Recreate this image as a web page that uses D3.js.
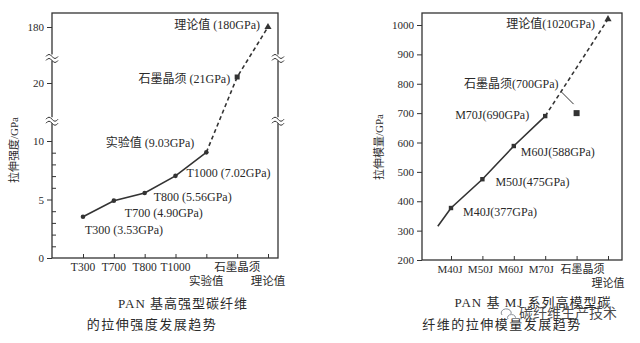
<!DOCTYPE html>
<html>
<head>
<meta charset="utf-8">
<script src="https://cdn.jsdelivr.net/npm/d3@7"></script>
<style>
  body { margin: 0; background: #fff; }
  svg text { font-family: "Liberation Serif", "Noto Sans CJK SC", serif; fill: #2a2a2a; }
</style>
</head>
<body>
<script>
// ---- data: PAN strength (left) ----
var strengthCats = ["T300", "T700", "T800", "T1000", "实验值", "石墨晶须", "理论值"];
var strengthVals = [3.53, 4.90, 5.56, 7.02, 9.03, 21, 180];
var strengthLabels = ["T300  (3.53GPa)", "T700 (4.90GPa)", "T800 (5.56GPa)", "T1000 (7.02GPa)",
                      "实验值 (9.03GPa)", "石墨晶须 (21GPa)", "理论值 (180GPa)"];
var strengthTicks = [0, 5, 10, 20, 180];
var strengthMinor = [1, 2, 3, 4, 6, 7, 8, 9];

// ---- data: MJ modulus (right) ----
var modulusCats = ["M40J", "M50J", "M60J", "M70J", "石墨晶须", "理论值"];
var modulusVals = [377, 475, 588, 690, 700, 1020];
var modulusLabels = ["M40J(377GPa)", "M50J(475GPa)", "M60J(588GPa)", "M70J(690GPa)",
                     "石墨晶须(700GPa)", "理论值(1020GPa)"];
var modulusTicks = [200, 300, 400, 500, 600, 700, 800, 900, 1000];
var modulusTrendStart = {step: -0.42, value: 315};

var W = 640, H = 343;
var ink = "#333";

var svg = d3.select("body").append("svg")
  .attr("width", W)
  .attr("height", H);

function breakMark(g, x, y) {
  // little double wave on a broken axis
  g.append("rect").attr("x", x - 6).attr("y", y - 3).attr("width", 12).attr("height", 6).attr("fill", "#fff");
  [-2, 2].forEach(function(o) {
    g.append("path")
      .attr("d", "M" + (x - 6) + "," + (y + o + 1) + " q3,-4 6,0 t6,0")
      .attr("fill", "none").attr("stroke", ink).attr("stroke-width", 1);
  });
}

// =============== left chart ===============
var L = {x0: 52, x1: 278, y0: 13, y1: 258};
var gL = svg.append("g");

var xL = d3.scalePoint().domain(strengthCats).range([83, 268]);
// piecewise scale for the broken axis
var yL = d3.scaleLinear()
  .domain([0, 10, 11.5, 17, 24, 170, 175, 185])
  .range([258, 141, 123.5, 101, 59, 45, 37, 17]);

gL.append("rect")
  .attr("x", L.x0).attr("y", L.y0)
  .attr("width", L.x1 - L.x0).attr("height", L.y1 - L.y0)
  .attr("fill", "none").attr("stroke", ink).attr("stroke-width", 1.3);

var yAxisL = gL.append("g")
  .attr("transform", "translate(" + L.x0 + ",0)")
  .call(d3.axisLeft(yL).tickValues(strengthTicks).tickSize(5).tickPadding(3));
yAxisL.select(".domain").remove();

var yMinorL = gL.append("g")
  .attr("transform", "translate(" + L.x0 + ",0)")
  .call(d3.axisLeft(yL).tickValues(strengthMinor).tickSize(-4).tickFormat(""));
yMinorL.select(".domain").remove();

var xAxisL = gL.append("g")
  .attr("transform", "translate(0," + L.y1 + ")")
  .call(d3.axisBottom(xL).tickSize(-4).tickFormat(""));
xAxisL.select(".domain").remove();

[yAxisL, yMinorL, xAxisL].forEach(function(a) {
  a.selectAll("line").attr("stroke", ink);
  a.selectAll("text").style("font-size", "11px").attr("fill", "#2a2a2a");
});

// axis breaks
[12.3, 40].forEach(function(v) {
  breakMark(gL, L.x0, yL(v));
  breakMark(gL, L.x1, yL(v));
});

var rowL = [0, 0, 0, 0, 1, 0, 1];
gL.selectAll(".xlab")
  .data(strengthCats)
  .enter().append("text")
  .attr("x", function(d) { return xL(d); })
  .attr("y", function(d, i) { return L.y1 + 13 + rowL[i] * 14; })
  .attr("text-anchor", "middle")
  .style("font-size", "11.5px")
  .text(function(d) { return d; });

var ptsL = strengthCats.map(function(c, i) { return [xL(c), yL(strengthVals[i])]; });
var line = d3.line();

gL.append("path")
  .attr("d", line(ptsL.slice(0, 5)))
  .attr("fill", "none").attr("stroke", ink).attr("stroke-width", 1.6);
gL.append("path")
  .attr("d", line(ptsL.slice(4)))
  .attr("fill", "none").attr("stroke", ink).attr("stroke-width", 1.6)
  .attr("stroke-dasharray", "4,3");

gL.selectAll(".pt")
  .data(ptsL.slice(0, 5))
  .enter().append("circle")
  .attr("cx", function(d) { return d[0]; })
  .attr("cy", function(d) { return d[1]; })
  .attr("r", 2.3)
  .attr("fill", ink);
gL.append("rect")
  .attr("x", ptsL[5][0] - 2.5).attr("y", ptsL[5][1] - 2.5)
  .attr("width", 5).attr("height", 5).attr("fill", ink);
gL.append("path")
  .attr("d", d3.symbol(d3.symbolTriangle, 22)())
  .attr("transform", "translate(" + ptsL[6][0] + "," + ptsL[6][1] + ")")
  .attr("fill", ink);

var offL = [
  {dx: 2, dy: 13, a: "start"},
  {dx: 11, dy: 12, a: "start"},
  {dx: 9, dy: 4, a: "start"},
  {dx: 11, dy: -3, a: "start"},
  {dx: -12, dy: -10, a: "end"},
  {dx: -7, dy: 2, a: "end"},
  {dx: -8, dy: -2, a: "end"}
];
gL.selectAll(".plab")
  .data(strengthLabels)
  .enter().append("text")
  .attr("x", function(d, i) { return ptsL[i][0] + offL[i].dx; })
  .attr("y", function(d, i) { return ptsL[i][1] + offL[i].dy; })
  .attr("dy", "0.35em")
  .attr("text-anchor", function(d, i) { return offL[i].a; })
  .style("font-size", "12px")
  .text(function(d) { return d; });

gL.append("text")
  .attr("transform", "translate(18,150) rotate(-90)")
  .attr("text-anchor", "middle")
  .style("font-size", "11px")
  .text("拉伸强度/GPa");

gL.append("text")
  .attr("x", 183).attr("y", 308)
  .attr("text-anchor", "middle")
  .style("font-size", "13px").style("letter-spacing", "1px")
  .attr("fill", "#34425e")
  .text("PAN 基高强型碳纤维");
gL.append("text")
  .attr("x", 152).attr("y", 329)
  .attr("text-anchor", "middle")
  .style("font-size", "13px").style("letter-spacing", "1.5px")
  .attr("fill", "#34425e")
  .text("的拉伸强度发展趋势");

// =============== right chart ===============
var R = {x0: 422, x1: 622, y0: 13, y1: 260};
var gR = svg.append("g");

var xR = d3.scalePoint().domain(modulusCats).range([451, 608]);
var yR = d3.scaleLinear().domain([200, 1000]).range([260, 25]);

gR.append("rect")
  .attr("x", R.x0).attr("y", R.y0)
  .attr("width", R.x1 - R.x0).attr("height", R.y1 - R.y0)
  .attr("fill", "none").attr("stroke", ink).attr("stroke-width", 1.3);

var yAxisR = gR.append("g")
  .attr("transform", "translate(" + R.x0 + ",0)")
  .call(d3.axisLeft(yR).tickValues(modulusTicks).tickSize(5).tickPadding(3).tickFormat(d3.format("d")));
yAxisR.select(".domain").remove();

var xAxisR = gR.append("g")
  .attr("transform", "translate(0," + R.y1 + ")")
  .call(d3.axisBottom(xR).tickSize(-4).tickFormat(""));
xAxisR.select(".domain").remove();

[yAxisR, xAxisR].forEach(function(a) {
  a.selectAll("line").attr("stroke", ink);
  a.selectAll("text").style("font-size", "11px").attr("fill", "#2a2a2a");
});

var rowR = [0, 0, 0, 0, 0, 1];
var shiftR = [-1, -2, -3, -4, 6, 0];
gR.selectAll(".xlab")
  .data(modulusCats)
  .enter().append("text")
  .attr("x", function(d, i) { return xR(d) + shiftR[i]; })
  .attr("y", function(d, i) { return R.y1 + 13 + rowR[i] * 14; })
  .attr("text-anchor", "middle")
  .style("font-size", "11px")
  .text(function(d) { return d; });

var stepR = xR.step();
var ptsR = modulusCats.map(function(c, i) { return [xR(c), yR(modulusVals[i])]; });
var trendStart = [xR(modulusCats[0]) + modulusTrendStart.step * stepR, yR(modulusTrendStart.value)];

gR.append("path")
  .attr("d", line([trendStart].concat(ptsR.slice(0, 4))))
  .attr("fill", "none").attr("stroke", ink).attr("stroke-width", 1.6);
gR.append("path")
  .attr("d", line([ptsR[3], ptsR[5]]))
  .attr("fill", "none").attr("stroke", ink).attr("stroke-width", 1.6)
  .attr("stroke-dasharray", "4,3");

gR.selectAll(".pt")
  .data(ptsR.slice(0, 4))
  .enter().append("rect")
  .attr("x", function(d) { return d[0] - 2.2; })
  .attr("y", function(d) { return d[1] - 2.2; })
  .attr("width", 4.4).attr("height", 4.4)
  .attr("fill", ink);
gR.append("rect")
  .attr("x", ptsR[4][0] - 3).attr("y", ptsR[4][1] - 3)
  .attr("width", 6).attr("height", 6).attr("fill", ink);
gR.append("path")
  .attr("d", d3.symbol(d3.symbolTriangle, 22)())
  .attr("transform", "translate(" + ptsR[5][0] + "," + ptsR[5][1] + ")")
  .attr("fill", ink);

var offR = [
  {dx: 12, dy: 4, a: "start"},
  {dx: 13, dy: 3, a: "start"},
  {dx: 7, dy: 6, a: "start"},
  {dx: -16, dy: -1, a: "end"},
  {dx: -18, dy: -29, a: "end"},
  {dx: -13, dy: 5, a: "end"}
];
gR.selectAll(".plab")
  .data(modulusLabels)
  .enter().append("text")
  .attr("x", function(d, i) { return ptsR[i][0] + offR[i].dx; })
  .attr("y", function(d, i) { return ptsR[i][1] + offR[i].dy; })
  .attr("dy", "0.35em")
  .attr("text-anchor", function(d, i) { return offR[i].a; })
  .style("font-size", "12px")
  .text(function(d) { return d; });

// leader from the whisker label to its square
gR.append("line")
  .attr("x1", ptsR[4][0] - 15).attr("y1", ptsR[4][1] - 21)
  .attr("x2", ptsR[4][0] - 3).attr("y2", ptsR[4][1] - 9)
  .attr("stroke", ink).attr("stroke-width", 1);

gR.append("text")
  .attr("transform", "translate(383,147) rotate(-90)")
  .attr("text-anchor", "middle")
  .style("font-size", "11px")
  .text("拉伸模量/GPa");

gR.append("text")
  .attr("x", 533).attr("y", 307)
  .attr("text-anchor", "middle")
  .style("font-size", "13px").style("letter-spacing", "1px")
  .attr("fill", "#34425e")
  .text("PAN 基 MJ 系列高模型碳");
gR.append("text")
  .attr("x", 502).attr("y", 329)
  .attr("text-anchor", "middle")
  .style("font-size", "13px").style("letter-spacing", "1.5px")
  .attr("fill", "#34425e")
  .text("纤维的拉伸模量发展趋势");

// watermark
svg.append("text")
  .attr("x", 568).attr("y", 318)
  .attr("text-anchor", "middle")
  .style("font-size", "14px")
  .attr("fill", "#8a8f96")
  .attr("fill-opacity", 0.85)
  .text("碳纤维生产技术");
svg.append("path")
  .attr("d", "M502,315 a5,4 0 1,1 9,-1 M508,319 a4,3 0 1,1 7,0")
  .attr("fill", "none").attr("stroke", "#8a8f96").attr("stroke-width", 1);
</script>
</body>
</html>
